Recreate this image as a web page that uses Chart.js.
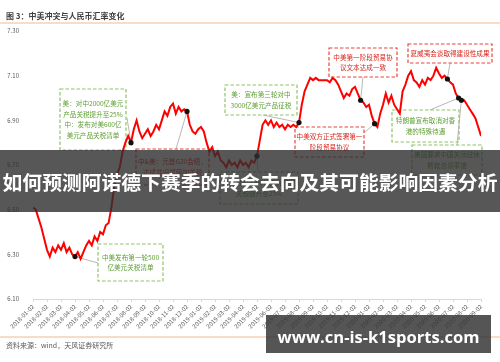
<!DOCTYPE html>
<html>
<head>
<meta charset="utf-8">
<script src="https://cdn.jsdelivr.net/npm/chart.js@4/dist/chart.umd.min.js"></script>
<style>
  html, body { margin: 0; padding: 0; background: #ffffff; }
  #wrap { position: relative; width: 500px; height: 362px; overflow: hidden; }
  canvas { display: block; }
</style>
</head>
<body>
<div id="wrap"><canvas id="fx" width="500" height="362"></canvas></div>
<script>
// Month tick labels along the x axis (one per month)
const monthLabels = [
  '2018-01-02','2018-02-02','2018-03-02','2018-04-02','2018-05-02','2018-06-02',
  '2018-07-02','2018-08-02','2018-09-02','2018-10-02','2018-11-02','2018-12-02',
  '2019-01-02','2019-02-02','2019-03-02','2019-04-02','2019-05-02','2019-06-02',
  '2019-07-02','2019-08-02','2019-09-02','2019-10-02','2019-11-02','2019-12-02',
  '2020-01-02','2020-02-02','2020-03-02','2020-04-02','2020-05-02','2020-06-02',
  '2020-07-02','2020-08-02','2020-09-02'
];

// Value-axis ticks
const yTickValues = [6.10, 6.30, 6.50, 6.70, 6.90, 7.10, 7.30];

// USD/CNY, sampled every STEP months starting 2018-01-02
const STEP = 0.2;
const usdCny = [
  6.51, 6.50, 6.46, 6.42, 6.37, 6.32, 6.29, 6.33, 6.31, 6.34,
  6.32, 6.35, 6.31, 6.33, 6.30, 6.29, 6.31, 6.28, 6.31, 6.34,
  6.36, 6.34, 6.38, 6.36, 6.40, 6.39, 6.43, 6.44, 6.51, 6.60,
  6.66, 6.69, 6.76, 6.80, 6.83, 6.80, 6.86, 6.90, 6.85, 6.82,
  6.84, 6.86, 6.83, 6.85, 6.88, 6.86, 6.90, 6.94, 6.92, 6.96,
  6.975, 6.93, 6.96, 6.94, 6.95, 6.94, 6.88, 6.85, 6.84, 6.86,
  6.87, 6.85, 6.80, 6.76, 6.78, 6.74, 6.76, 6.72, 6.71, 6.69,
  6.72, 6.70, 6.71, 6.69, 6.72, 6.70, 6.71, 6.69, 6.72, 6.71,
  6.74, 6.81, 6.88, 6.90, 6.88, 6.90, 6.87, 6.89, 6.87, 6.88,
  6.86, 6.88, 6.87, 6.88, 6.87, 6.89, 6.97, 7.03, 7.06, 7.09,
  7.08, 7.09, 7.08, 7.08, 7.08, 7.08, 7.07, 7.09, 7.08, 7.06,
  7.03, 7.00, 7.02, 7.01, 7.04, 7.05, 7.02, 6.99, 6.98, 6.96,
  6.97, 6.92, 6.885, 6.87, 6.93, 6.97, 7.02, 6.98, 7.01, 6.97,
  6.95, 6.93, 7.03, 7.06, 7.10, 7.12, 7.08, 7.07, 7.05, 7.08,
  7.06, 7.09, 7.08, 7.10, 7.135, 7.11, 7.09, 7.10, 7.085, 7.07,
  7.06, 7.02, 7.00, 6.99, 6.99, 6.97, 6.95, 6.93, 6.91, 6.87,
  6.83
];

// Events marked on the line (index into usdCny) and their notes
const eventIdx  = [15, 35, 55, 80, 95, 117, 122, 148, 152, 153];
const eventTone = ['g', 'g', 'r', 'g', 'g', 'r', 'r', 'r', 'g', 'g'];
const eventText = [
  ['中美发布第一轮500', '亿美元关税清单'],
  ['美：对中2000亿美元', '产品关税提升至25%', '中：发布对美600亿', '美元产品关税清单'],
  ['中&美：元首G20会晤，', '达成共识暂停加关税'],
  ['美：对中2000亿美元产品', '关税提升至25%'],
  ['美：宣布第三轮对中', '3000亿美元产品征税'],
  ['中美第一阶段贸易协', '议文本达成一致'],
  ['中美双方正式签署第一', '阶段贸易协议'],
  ['夏威夷会谈取得建设性成果'],
  ['特朗普宣布取消对香', '港的特殊待遇'],
  ['美国要求中国关闭驻休', '斯敦总领事馆']
];

// Note box placement: [left, top, width, height] and leader-line start
const noteBoxes = [
  [98, 244, 65, 37], [60, 89, 66, 61], [136, 149, 73, 36], [220, 172, 78, 32],
  [225, 85, 72, 30], [329, 48, 68, 29], [295, 127, 69, 30], [408, 44, 84, 19],
  [392, 110, 67, 32], [412, 145, 70, 30]
];
const noteAnchors = [
  [98, 263], [127, 118], [176, 149], [258, 172], [263, 115],
  [363, 77], [364, 133], [450, 63], [430, 110], [457, 145]
];

const FONT = "'Noto Sans CJK SC', 'Noto Sans', sans-serif";
const TONES = {
  g: { border: '#8fc466', text: '#5e9e35' },
  r: { border: '#e8453c', text: '#d8261c' }
};

function fitFont(ctx, text, weight, family, width) {
  ctx.font = weight + ' 100px ' + family;
  return 100 * width / ctx.measureText(text).width;
}

const decor = {
  id: 'decor',
  beforeDraw(chart) {
    const ctx = chart.ctx;
    ctx.save();
    // header
    ctx.fillStyle = '#404040';
    ctx.font = 'bold 8px ' + FONT;
    ctx.textBaseline = 'middle';
    ctx.textAlign = 'left';
    ctx.fillText('图 3：中美冲突与人民币汇率变化', 6, 15.5);
    ctx.strokeStyle = '#f8cfb0';
    ctx.lineWidth = 1.6;
    ctx.beginPath(); ctx.moveTo(0, 23); ctx.lineTo(500, 23); ctx.stroke();
    ctx.beginPath(); ctx.moveTo(0, 337); ctx.lineTo(500, 337); ctx.stroke();
    // footer
    ctx.fillStyle = '#595959';
    ctx.font = '7px ' + FONT;
    ctx.fillText('资料来源：wind，天风证券研究所', 6, 345.5);
    ctx.restore();
  },
  beforeDatasetsDraw(chart) {
    const ctx = chart.ctx;
    const xs = chart.scales.x, ys = chart.scales.y;
    ctx.save();
    eventIdx.forEach((idx, k) => {
      const px = xs.getPixelForValue(idx * STEP);
      const py = ys.getPixelForValue(usdCny[idx]);
      const [ax, ay] = noteAnchors[k];
      // leader line
      ctx.strokeStyle = '#a6a6a6';
      ctx.lineWidth = 0.8;
      ctx.setLineDash([]);
      ctx.beginPath(); ctx.moveTo(ax, ay); ctx.lineTo(px, py); ctx.stroke();
      // dashed note box
      const [bx, by, bw, bh] = noteBoxes[k];
      const tone = TONES[eventTone[k]];
      ctx.fillStyle = '#ffffff';
      ctx.fillRect(bx, by, bw, bh);
      ctx.strokeStyle = tone.border;
      ctx.lineWidth = 1.2;
      ctx.setLineDash([3.5, 2]);
      ctx.strokeRect(bx, by, bw, bh);
      ctx.setLineDash([]);
      // note text
      const lines = eventText[k];
      ctx.fillStyle = tone.text;
      ctx.font = '6.6px ' + FONT;
      ctx.textAlign = 'center';
      ctx.textBaseline = 'middle';
      const cy = by + bh / 2;
      lines.forEach((t, j) => {
        ctx.fillText(t, bx + bw / 2, cy + (j - (lines.length - 1) / 2) * 10.5);
      });
    });
    ctx.restore();
  },
  afterDraw(chart) {
    const ctx = chart.ctx;
    ctx.save();
    // headline banner
    ctx.fillStyle = 'rgba(45,45,45,0.8)';
    ctx.fillRect(0, 150, 500, 62);
    const head = '如何预测阿诺德下赛季的转会去向及其可能影响因素分析';
    const hs = fitFont(ctx, head, 'bold', FONT, 495);
    ctx.font = 'bold ' + hs + 'px ' + FONT;
    ctx.fillStyle = '#ffffff';
    ctx.textAlign = 'center';
    ctx.textBaseline = 'middle';
    ctx.fillText(head, 250, 182);
    // site banner
    ctx.fillStyle = 'rgba(55,55,55,0.85)';
    ctx.fillRect(266, 315, 225, 38);
    const site = 'www.cn-is-k1sports.com';
    const ss = fitFont(ctx, site, 'bold', "'Open Sans', 'Noto Sans', sans-serif", 202);
    ctx.font = 'bold ' + ss + "px 'Open Sans', 'Noto Sans', sans-serif";
    ctx.fillStyle = '#ffffff';
    ctx.textBaseline = 'alphabetic';
    ctx.fillText(site, 378.5, 343);
    ctx.restore();
  }
};

const series = usdCny.map((v, i) => ({ x: i * STEP, y: v }));

new Chart(document.getElementById('fx'), {
  type: 'line',
  data: {
    datasets: [{
      data: series,
      borderColor: '#ff0000',
      borderWidth: 2,
      tension: 0,
      pointRadius: c => (eventIdx.includes(c.dataIndex) ? 2.6 : 0),
      pointBackgroundColor: '#111111',
      pointBorderWidth: 0
    }]
  },
  options: {
    responsive: false,
    animation: false,
    devicePixelRatio: 1,
    layout: { padding: { left: 0, right: 19, top: 31, bottom: 0 } },
    plugins: { legend: { display: false }, tooltip: { enabled: false } },
    scales: {
      x: {
        type: 'linear',
        min: 0,
        max: monthLabels.length - 1,
        afterBuildTicks: s => { s.ticks = monthLabels.map((_, i) => ({ value: i })); },
        afterFit: s => { s.height = 63; },
        grid: { display: true, drawOnChartArea: false, tickLength: 3, color: '#d9d9d9' },
        border: { display: true, color: '#d9d9d9' },
        ticks: {
          autoSkip: false, minRotation: 45, maxRotation: 45, padding: 1,
          color: '#595959', font: { size: 6, family: FONT },
          callback: (v, i) => monthLabels[i]
        }
      },
      y: {
        min: 6.1,
        max: 7.3,
        afterBuildTicks: s => { s.ticks = yTickValues.map(v => ({ value: v })); },
        afterFit: s => { s.width = 33; },
        grid: { display: false },
        border: { display: false },
        ticks: {
          padding: 6, color: '#595959', font: { size: 6, family: FONT },
          callback: v => Number(v).toFixed(2)
        }
      }
    }
  },
  plugins: [decor]
});
</script>
</body>
</html>
